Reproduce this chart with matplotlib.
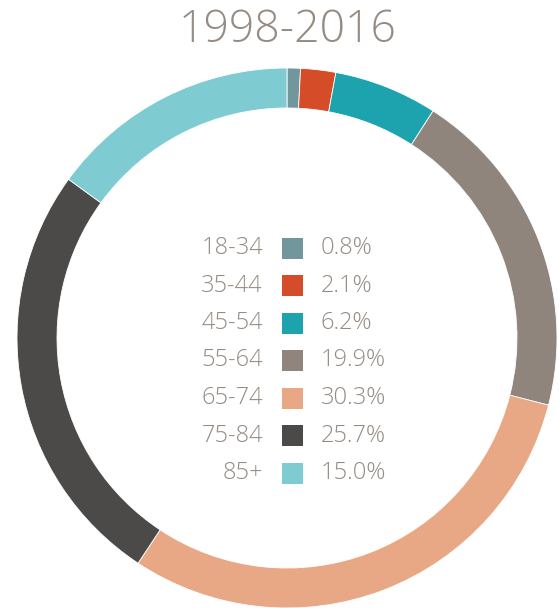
import matplotlib
matplotlib.use("Agg")
import matplotlib.pyplot as plt
from matplotlib.patches import Rectangle

title = "1998-2016"
categories = ["18-34", "35-44", "45-54", "55-64", "65-74", "75-84", "85+"]
values = [0.8, 2.1, 6.2, 19.9, 30.3, 25.7, 15.0]
labels = ["0.8%", "2.1%", "6.2%", "19.9%", "30.3%", "25.7%", "15.0%"]
colors = ["#71979d", "#d44d28", "#1ca3ad", "#8f857c", "#e8a886", "#4b4a49", "#7fcbd2"]

W, H = 559, 608
fig = plt.figure(figsize=(W / 100, H / 100), dpi=100)
ax = fig.add_axes([0, 0, 1, 1])

cx, cy, R, ring = 287, H - 338, 270, 40
ax.pie(values, colors=colors, startangle=90, counterclock=False,
       center=(cx, cy), radius=R,
       wedgeprops=dict(width=ring, edgecolor="white", linewidth=0.6))
ax.set_xlim(0, W)
ax.set_ylim(0, H)
ax.set_aspect("equal")
ax.axis("off")

txt = "#958b83"
fam = ["Open Sans", "DejaVu Sans"]
ax.text(288, H - 31, title, ha="center", va="center", fontsize=32,
        color=txt, family=fam, fontweight="light")

y0, dy = 248, 37.5
for i, (c, lab, col) in enumerate(zip(categories, labels, colors)):
    y = H - (y0 + i * dy)
    ax.text(263, y, c, ha="right", va="center", fontsize=17, color=txt,
            family=fam, fontweight="light")
    ax.add_patch(Rectangle((282, y - 10.5), 21, 21, facecolor=col, edgecolor="none"))
    ax.text(321, y, lab, ha="left", va="center", fontsize=17, color=txt,
            family=fam, fontweight="light")

fig.savefig("out.png", dpi=100, facecolor="white")
